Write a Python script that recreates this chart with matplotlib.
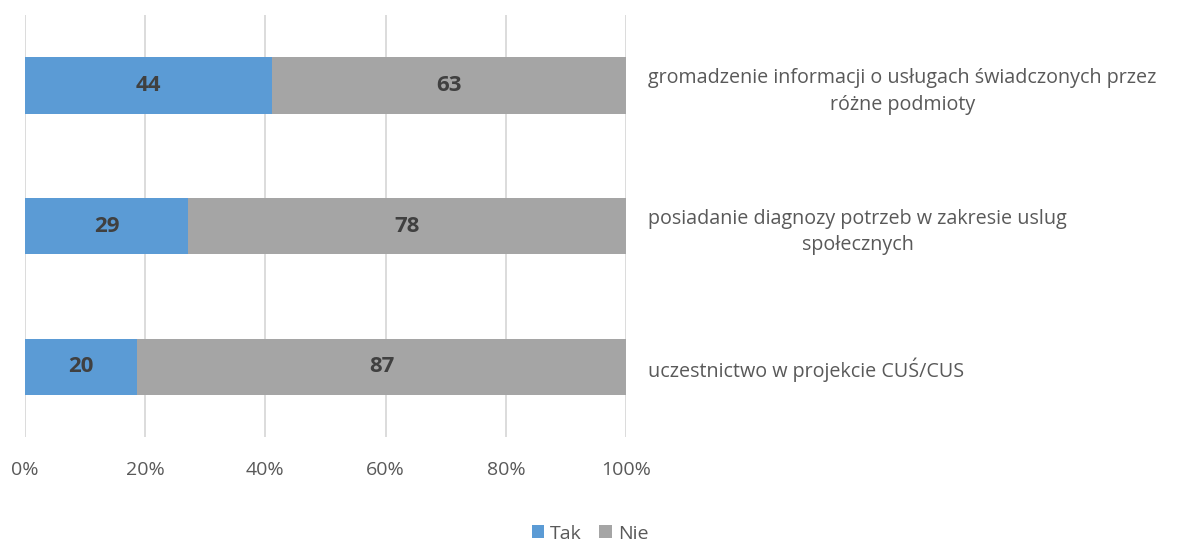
import matplotlib.pyplot as plt
import numpy as np

plt.rcParams['font.family'] = ['Open Sans', 'DejaVu Sans']

# data
categories = ['uczestnictwo w projekcie CUŚ/CUS',
              'posiadanie diagnozy potrzeb w zakresie uslug\nspołecznych',
              'gromadzenie informacji o usługach świadczonych przez\nróżne podmioty']
tak = np.array([20, 29, 44])
nie = np.array([87, 78, 63])

total = tak + nie
tak_pct = tak / total * 100
nie_pct = nie / total * 100

fig = plt.figure(figsize=(11.87, 5.45), dpi=100)
ax = fig.add_axes([0.0211, 0.198, 0.5063, 0.774])

y = np.arange(len(categories))
h = 0.40
ax.barh(y, tak_pct, height=h, color='#5B9BD5', label='Tak', zorder=3)
ax.barh(y, nie_pct, left=tak_pct, height=h, color='#A5A5A5', label='Nie', zorder=3)

for i in range(len(categories)):
    ax.text(tak_pct[i] / 2, y[i], str(tak[i]), ha='center', va='center',
            fontsize=16, fontweight='bold', color='#404040', zorder=4)
    ax.text(tak_pct[i] + nie_pct[i] / 2, y[i], str(nie[i]), ha='center', va='center',
            fontsize=16, fontweight='bold', color='#404040', zorder=4)

ax.set_xlim(0, 100)
ax.set_ylim(-0.5, 2.5)
ax.set_xticks(np.arange(0, 101, 20))
ax.set_xticklabels([f'{v}%' for v in range(0, 101, 20)])
ax.grid(axis='x', color='#D9D9D9', linewidth=1.3, zorder=0)
for s in ax.spines.values():
    s.set_visible(False)

ax.yaxis.tick_right()
ax.set_yticks(y)
ax.set_yticklabels(categories, ha='left', multialignment='center', linespacing=1.45)
ax.tick_params(axis='y', length=0, pad=16, labelsize=14.2, labelcolor='#595959')
ax.tick_params(axis='x', length=0, pad=17, labelsize=14, labelcolor='#595959')

leg = fig.legend(loc='lower center', bbox_to_anchor=(0.497, -0.028), ncol=2, frameon=False,
                 fontsize=14, labelcolor='#595959', handlelength=0.65, handleheight=0.65,
                 handletextpad=0.3, columnspacing=0.9)

fig.savefig('out.png', dpi=100)
